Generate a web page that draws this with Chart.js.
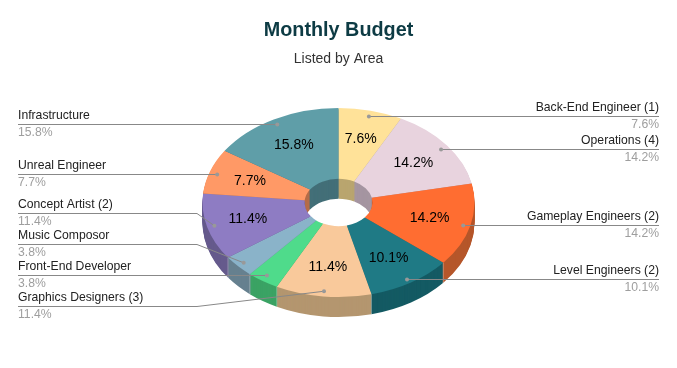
<!DOCTYPE html>
<html>
<head>
<meta charset="utf-8">
<title>Monthly Budget</title>
<script src="https://cdn.jsdelivr.net/npm/chart.js@4"></script>
<style>
  html, body { margin: 0; padding: 0; background: #fff; }
  canvas { display: block; }
</style>
</head>
<body>
<canvas id="budgetChart" width="677" height="368"></canvas>
<script>
const categories = ['Back-End Engineer (1)', 'Operations (4)', 'Gameplay Engineers (2)', 'Level Engineers (2)', 'Graphics Designers (3)', 'Front-End Developer', 'Music Composor', 'Concept Artist (2)', 'Unreal Engineer', 'Infrastructure'];
const shares = [7.6, 14.2, 14.2, 10.1, 11.4, 3.8, 3.8, 11.4, 7.7, 15.8];
const sliceColors = ['#ffe299', '#e8d3de', '#ff6d31', '#1f7a85', '#f9c99b', '#4fdb8b', '#8ab3c9', '#8e7cc3', '#ff9966', '#5f9ea8'];
const sideColors = ['#b9a56f', '#a595a1', '#b5562a', '#145a63', '#b4966f', '#3ba364', '#66808f', '#655a8c', '#b56c48', '#436f78'];

// y of the label rule for every slice
const leaderLineY = [116.5, 149.5, 225.5, 279.5, 306.5, 275.5, 244.5, 213.5, 174.5, 124.5];

// tilt of the pie
const TILT = 0.695;
const PIE_Y = 202.5;
const DEPTH = 20;
const FONT = '"Liberation Sans", Arial, sans-serif';

function tiltContext(ctx, arc, offset) {
    ctx.translate(arc.x, PIE_Y + offset);
    ctx.scale(1, TILT);
    ctx.translate(-arc.x, -arc.y);
}

// where a point on a slice ends up once the pie is tilted
function project(arc, angle, r) {
    return {
        x: arc.x + Math.cos(angle) * r,
        y: PIE_Y + Math.sin(angle) * r * TILT
    };
}

const tiltedPie = {
    id: 'tiltedPie',
    beforeDatasetsDraw(chart) {
        const ctx = chart.ctx;
        const arcs = chart.getDatasetMeta(0).data;

        // sides: same arcs stacked downwards in the darker colour
        for (let d = DEPTH; d > 0; d--) {
            ctx.save();
            tiltContext(ctx, arcs[0], d);
            arcs.forEach((arc, i) => {
                const side = Object.create(arc);
                side.options = Object.assign({}, arc.options, { backgroundColor: sideColors[i], borderWidth: 0 });
                side.draw(ctx);
            });
            ctx.restore();
        }

        // light seam where two slices meet on the front wall
        ctx.save();
        ctx.strokeStyle = 'rgba(255,255,255,0.3)';
        ctx.lineWidth = 1;
        arcs.forEach(arc => {
            if (Math.sin(arc.startAngle) > 0) {
                const p = project(arc, arc.startAngle, arc.outerRadius);
                ctx.beginPath();
                ctx.moveTo(p.x, p.y);
                ctx.lineTo(p.x, p.y + DEPTH);
                ctx.stroke();
            }
        });
        ctx.restore();

        // the chart draws the top face itself
        ctx.save();
        tiltContext(ctx, arcs[0], 0);
    },
    afterDatasetsDraw(chart) {
        const ctx = chart.ctx;
        ctx.restore();

        const arcs = chart.getDatasetMeta(0).data;
        arcs.forEach((arc, i) => {
            const mid = (arc.startAngle + arc.endAngle) / 2;
            const inner = project(arc, mid, arc.outerRadius * 0.69);
            const dot = project(arc, mid, arc.outerRadius * 0.945);
            const right = Math.cos(mid) > 0;
            const y = leaderLineY[i];
            const edgeX = right ? 659 : 18;
            const elbowX = right ? 480 : 197;
            ctx.textBaseline = 'middle';

            // percent on the slice, thin slices have none
            if (shares[i] > 5) {
                ctx.fillStyle = '#000';
                ctx.font = '14px ' + FONT;
                ctx.textAlign = 'center';
                ctx.fillText(shares[i].toFixed(1) + '%', inner.x, inner.y);
            }

            // leader line, straight when the dot is level with the rule
            if (Math.abs(dot.y - y) < 2) {
                dot.y = y;
            }
            ctx.strokeStyle = '#888';
            ctx.lineWidth = 1;
            ctx.beginPath();
            ctx.moveTo(edgeX, y);
            ctx.lineTo(elbowX, y);
            ctx.lineTo(dot.x, dot.y);
            ctx.stroke();
            ctx.fillStyle = '#999';
            ctx.beginPath();
            ctx.arc(dot.x, dot.y, 2, 0, Math.PI * 2);
            ctx.fill();

            // outside labels
            ctx.textAlign = right ? 'right' : 'left';
            ctx.font = '12.2px ' + FONT;
            ctx.fillStyle = '#222';
            ctx.fillText(categories[i], edgeX, y - 8.5);
            ctx.fillStyle = '#9e9e9e';
            ctx.fillText(shares[i].toFixed(1) + '%', edgeX, y + 8.5);
        });
    }
};

new Chart(document.getElementById('budgetChart').getContext('2d'), {
    type: 'doughnut',
    data: {
        labels: categories,
        datasets: [{
            data: shares,
            backgroundColor: sliceColors,
            borderWidth: 0,
            radius: 136,
            cutout: '25%'
        }]
    },
    options: {
        responsive: false,
        animation: false,
        plugins: {
            legend: { display: false },
            tooltip: { enabled: false },
            title: {
                display: true,
                text: 'Monthly Budget',
                color: '#0d3b44',
                font: { family: FONT, size: 19.8, weight: 'bold' },
                padding: { top: 19, bottom: 5 }
            },
            subtitle: {
                display: true,
                text: 'Listed by Area',
                color: '#333',
                font: { family: FONT, size: 14, weight: 'normal' },
                padding: { top: 3, bottom: 10 }
            }
        }
    },
    plugins: [tiltedPie]
});
</script>
</body>
</html>
